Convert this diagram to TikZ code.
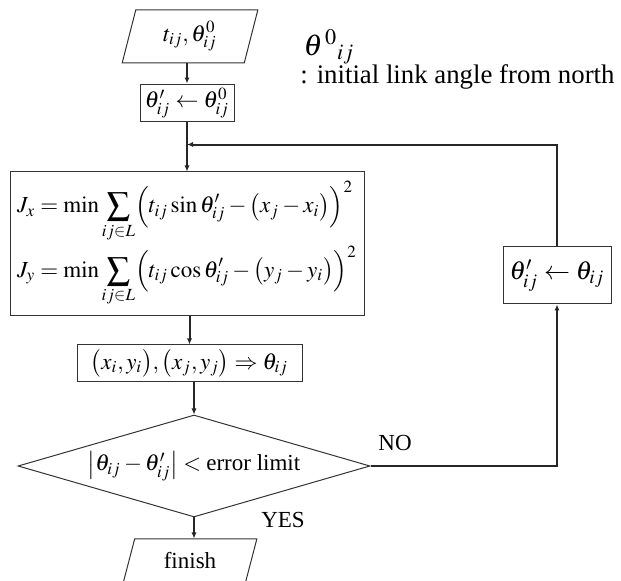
\documentclass[tikz,border=0pt]{standalone}
\usepackage{amsmath}
\usepackage{mathptmx}
\usepackage{fontspec}
\setmainfont{Liberation Serif}
\usetikzlibrary{arrows.meta,shapes.geometric,calc}
\tikzset{
  box/.style={draw=black!80,line width=0.5pt,inner sep=2pt,align=center},
  io/.style={trapezium,trapezium stretches=true,draw=black!80,line width=0.5pt,inner sep=1pt,
    trapezium left angle=78,trapezium right angle=102},
  decision/.style={diamond,draw=black!80,line width=0.5pt,inner sep=0pt,aspect=3.45},
  ar/.style={-{Latex[length=3pt,width=2.6pt]},draw=black!85,line width=1pt},
  lbl/.style={inner sep=0pt},
}

\begin{document}
\begin{tikzpicture}[x=0.5pt,y=-0.5pt,font=\fontsize{11.5}{14}\selectfont]
  \useasboundingbox (0,0) rectangle (621,581);
  % main column
  \node[io,minimum width=68pt,minimum height=26.5pt] (input) at (190,36.5) {$t_{ij},\theta^0_{ij}$};
  \node[box,minimum width=47pt,minimum height=17pt] (init) at (187,103) {$\theta'_{ij}\leftarrow\theta^0_{ij}$};
  \node[box,minimum width=177pt,minimum height=72pt,align=left] (cost) at (187,244)
    {$\displaystyle J_x=\min\sum_{ij\in L}\Bigl(t_{ij}\sin\theta'_{ij}-\bigl(x_j-x_i\bigr)\Bigr)^2$\\[1pt]
     $\displaystyle J_y=\min\sum_{ij\in L}\Bigl(t_{ij}\cos\theta'_{ij}-\bigl(y_j-y_i\bigr)\Bigr)^2$};
  \node[box,minimum width=112.5pt,minimum height=18.5pt] (coords) at (189.5,363.5)
    {$\bigl(x_i,y_i\bigr),\bigl(x_j,y_j\bigr)\Rightarrow\theta_{ij}$};
  \node[decision,minimum width=176pt,minimum height=51pt] (check) at (194,466)
    {$\bigl|\theta_{ij}-\theta'_{ij}\bigr|<\text{error limit}$};
  \node[io,minimum width=67pt,minimum height=22pt,trapezium left angle=74,trapezium right angle=106] (finish) at (190,561) {finish};
  % feedback
  \node[box,minimum width=54pt,minimum height=28.5pt,font=\fontsize{13}{15}\selectfont] (update) at (557,275.5) {$\theta'_{ij}\leftarrow\theta_{ij}$};
  \coordinate (merge) at ($(init.south)!0.45!(cost.north)$);
  % notes
  \node[lbl,font=\fontsize{15}{17}\selectfont] (sym) at (329,47) {${\theta^{\,0}}_{ij}$};
  \node[lbl,anchor=west,font=\fontsize{13.4}{16}\selectfont] (note) at (300,77) {: initial link angle from north};
  \node[lbl] (no) at (395,443) {NO};
  \node[lbl] (yes) at (283,520) {YES};
  % connectors
  \draw[ar] (input.south -| init.north) -- (init.north);
  \draw[ar] (init.south) -- (cost.north);
  \draw[ar] (cost.south -| coords.north) -- (coords.north);
  \draw[ar] (coords.south -| check.north) -- (check.north);
  \draw[ar] (check.south) -- (check.south |- finish.north);
  \draw[ar] (check.east) -- (check.east -| update.south) -- (update.south);
  \draw[ar] (update.north) -- (update.north |- merge) -- (merge);
\end{tikzpicture}
\end{document}
